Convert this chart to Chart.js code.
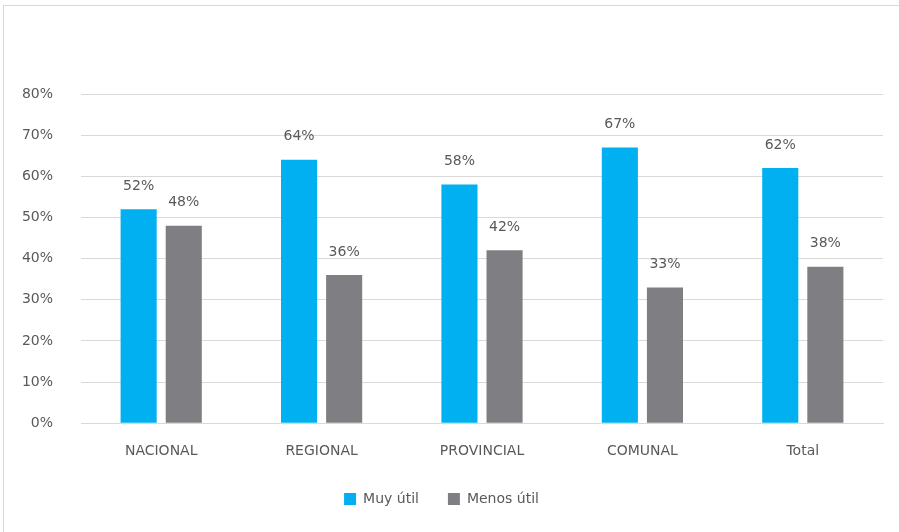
<!DOCTYPE html>
<html>
<head>
<meta charset="utf-8">
<script src="https://cdn.jsdelivr.net/npm/chart.js@4.4.0/dist/chart.umd.min.js"></script>
<style>
    html, body { margin: 0; background: #ffffff; overflow: hidden; }
    #wrap { position: relative; width: 899px; height: 532px; overflow: hidden; }
    #frame { position: absolute; left: 3px; top: 5px; width: 910px; height: 540px; border-left: 1px solid #d9d9d9; border-top: 1px solid #d9d9d9; }
    #myChart { position: absolute; left: 0; top: 0; }
</style>
</head>
<body>
<div id="wrap">
    <div id="frame"></div>
    <canvas id="myChart" width="899" height="532"></canvas>
</div>
<script>
var categories = ["NACIONAL", "REGIONAL", "PROVINCIAL", "COMUNAL", "Total"];
var muyUtil = [52, 64, 58, 67, 62];
var menosUtil = [48, 36, 42, 33, 38];
var yTicks = [0, 10, 20, 30, 40, 50, 60, 70, 80];

var textColor = "#595959";
var fontFamily = "'DejaVu Sans', sans-serif";

// labels above each bar
var barLabels = {
    id: "barLabels",
    afterDatasetsDraw: function (chart) {
        var ctx = chart.ctx;
        ctx.save();
        ctx.font = "14px " + fontFamily;
        ctx.fillStyle = textColor;
        ctx.textAlign = "center";
        ctx.textBaseline = "middle";
        chart.data.datasets.forEach(function (ds, i) {
            chart.getDatasetMeta(i).data.forEach(function (bar, j) {
                ctx.fillText(ds.data[j] + "%", bar.x, bar.y - 23);
            });
        });
        ctx.restore();
    }
};

var ctx = document.getElementById("myChart").getContext("2d");
new Chart(ctx, {
    type: "bar",
    data: {
        labels: categories,
        datasets: [
            {
                label: "Muy útil",
                backgroundColor: "#00b0f0",
                data: muyUtil,
                barPercentage: 0.8,
                categoryPercentage: 0.5625
            },
            {
                label: "Menos útil",
                backgroundColor: "#7f7f83",
                data: menosUtil,
                barPercentage: 0.8,
                categoryPercentage: 0.5625
            }
        ]
    },
    plugins: [barLabels],
    options: {
        responsive: false,
        animation: false,
        layout: {
            padding: { top: 94, right: 16, bottom: 16, left: 0 }
        },
        plugins: {
            legend: {
                position: "bottom",
                labels: {
                    boxWidth: 12,
                    boxHeight: 12,
                    padding: 29,
                    color: textColor,
                    font: { family: fontFamily, size: 14 }
                }
            },
            tooltip: { enabled: false }
        },
        scales: {
            x: {
                grid: { display: false, drawTicks: false },
                border: { color: "#d9d9d9" },
                afterFit: function (scale) { scale.height = scale.height - 17; },
                ticks: {
                    color: textColor,
                    padding: 20,
                    font: { family: fontFamily, size: 14 }
                }
            },
            y: {
                min: 0,
                max: 80,
                afterFit: function (scale) { scale.width = 81; },
                afterBuildTicks: function (scale) {
                    scale.ticks = yTicks.map(function (v) { return { value: v }; });
                },
                grid: { color: "#d9d9d9", drawTicks: false },
                border: { display: false },
                ticks: {
                    color: textColor,
                    padding: 28,
                    font: { family: fontFamily, size: 14 },
                    callback: function (v) { return v + "%"; }
                }
            }
        }
    }
});
</script>
</body>
</html>
